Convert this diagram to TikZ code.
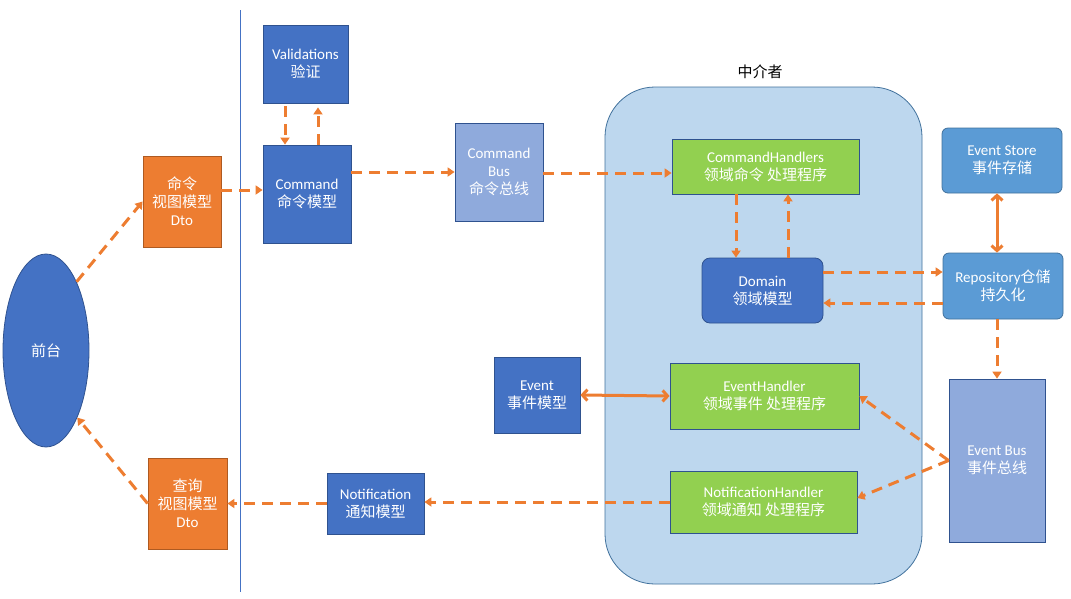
\documentclass[tikz,border=0pt]{standalone}
\usepackage{fontspec}
\setmainfont{Carlito}
\newfontfamily\cjk{Noto Sans CJK SC}
\usetikzlibrary{arrows.meta,shapes.geometric}

\newcommand\zhtxt[1]{{\cjk #1}}

\definecolor{dkblue}{HTML}{4472C4}
\definecolor{navy}{HTML}{2F528F}
\definecolor{orng}{HTML}{ED7D31}
\definecolor{orngline}{HTML}{AE5A21}
\definecolor{ltblue}{HTML}{8FAADC}
\definecolor{grn}{HTML}{92D050}
\definecolor{mdblue}{HTML}{5B9BD5}
\definecolor{mdline}{HTML}{41719C}
\definecolor{medfill}{HTML}{BDD7EE}

\tikzset{
  box/.style={draw=navy, line width=0.8pt, fill=dkblue, text=white, align=center,
    inner sep=0pt, font=\fontsize{15}{18}\selectfont},
  orangebox/.style={box, fill=orng, draw=orngline},
  busbox/.style={box, fill=ltblue},
  handler/.style={box, fill=grn},
  storebox/.style={box, fill=mdblue, draw=mdline, rounded corners=6pt},
  flow/.style={draw=orng, line width=3pt, dash pattern=on 11pt off 7pt,
    -{Triangle[length=7pt,width=9pt]}},
  link/.style={draw=orng, line width=3pt,
    {Straight Barb[length=5pt,width=11pt]}-{Straight Barb[length=5pt,width=11pt]}},
}

\begin{document}
\begin{tikzpicture}[x=1pt,y=-1pt]
\useasboundingbox (0,0) rectangle (1071,598);

% mediator container
\node[draw=mdline, line width=0.8pt, fill=medfill, rounded corners=50pt,
  minimum width=317, minimum height=497] (med) at (763.5,335.5) {};
\node[font=\fontsize{15}{18}\selectfont] (medlabel) at (760,72) {\zhtxt{中介者}};

% divider
\draw[dkblue, line width=0.8pt] (240,10) -- (240,592);

% front end and dto
\node[box, ellipse, minimum width=86, minimum height=193] (front) at (46,350.5) {\zhtxt{前台}};
\node[orangebox, minimum width=78, minimum height=91] (cmddto) at (182,201.5) {\zhtxt{命令}\\\zhtxt{视图模型}\\Dto};
\node[orangebox, minimum width=79, minimum height=91] (qdto) at (187.5,503.5) {\zhtxt{查询}\\\zhtxt{视图模型}\\Dto};

% command side
\node[box, minimum width=85, minimum height=78] (valid) at (305.5,64) {Validations\\\zhtxt{验证}};
\node[box, minimum width=88, minimum height=98] (cmd) at (307,194) {Command\\\zhtxt{命令模型}};
\node[busbox, minimum width=88, minimum height=98] (cbus) at (499,172) {Command\\Bus\\\zhtxt{命令总线}};
\node[handler, minimum width=187, minimum height=55] (ch) at (765.5,166.5) {CommandHandlers\\\zhtxt{领域命令 处理程序}};
\node[box, rounded corners=8pt, minimum width=121, minimum height=65] (dom) at (762.5,290.5) {Domain\\\zhtxt{领域模型}};

% persistence
\node[storebox, minimum width=120, minimum height=65] (estore) at (1002,160.5) {Event Store\\\zhtxt{事件存储}};
\node[storebox, minimum width=120, minimum height=66] (repo) at (1003,286) {Repository\zhtxt{仓储}\\\zhtxt{持久化}};
\node[busbox, minimum width=96, minimum height=163] (ebus) at (997,460.5) {Event Bus\\\zhtxt{事件总线}};

% event side
\node[handler, minimum width=189, minimum height=66] (eh) at (764.5,396) {EventHandler\\\zhtxt{领域事件 处理程序}};
\node[handler, minimum width=187, minimum height=62] (nh) at (763.5,502) {NotificationHandler\\\zhtxt{领域通知 处理程序}};
\node[box, minimum width=86, minimum height=76] (event) at (537,395) {Event\\\zhtxt{事件模型}};
\node[box, minimum width=97, minimum height=61] (notif) at (375.5,503.5) {Notification\\\zhtxt{通知模型}};

% connectors
\draw[flow] (front.66) -- (cmddto.west);
\draw[flow] ([yshift=11.5pt]cmddto.east) -- ([yshift=11.5pt]cmddto.east -| cmd.west);
\draw[flow] ([xshift=-20.5pt,yshift=-3pt]valid.south) -- ([xshift=-20.5pt]valid.south |- cmd.north);
\draw[flow] ([xshift=12.5pt]valid.south |- cmd.north) -- ([xshift=12.5pt,yshift=-4pt]valid.south);
\draw[flow] (cmd.east |- cbus.west) -- (cbus.west);
\draw[flow] ([yshift=-1pt]cbus.east) -- ([yshift=-1pt]cbus.east -| ch.west);
\draw[flow] ([xshift=-29.5pt]ch.south) -- ([xshift=-29.5pt]ch.south |- dom.north);
\draw[flow] ([xshift=22.5pt]ch.south |- dom.north) -- ([xshift=22.5pt]ch.south);
\draw[flow] ([yshift=18.5pt]dom.east) -- ([yshift=18.5pt]dom.east -| repo.west);
\draw[flow] ([yshift=-12.5pt]dom.east -| repo.west) -- ([yshift=-12.5pt]dom.east);
\draw[link] ([xshift=-5pt]estore.south) -- ([xshift=-5pt]estore.south |- repo.north);
\draw[flow] (repo.south -| ebus.north) -- (ebus.north);
\draw[flow] (ebus.west) -- (eh.east);
\draw[flow] (ebus.west) -- ([yshift=4pt]nh.east);
\draw[link] (event.east) -- (eh.west);
\draw[flow] (nh.west) -- (nh.west -| notif.east);
\draw[flow] (notif.west) -- (qdto.east);
\draw[flow] (qdto.west) -- (front.-65);
\end{tikzpicture}
\end{document}
